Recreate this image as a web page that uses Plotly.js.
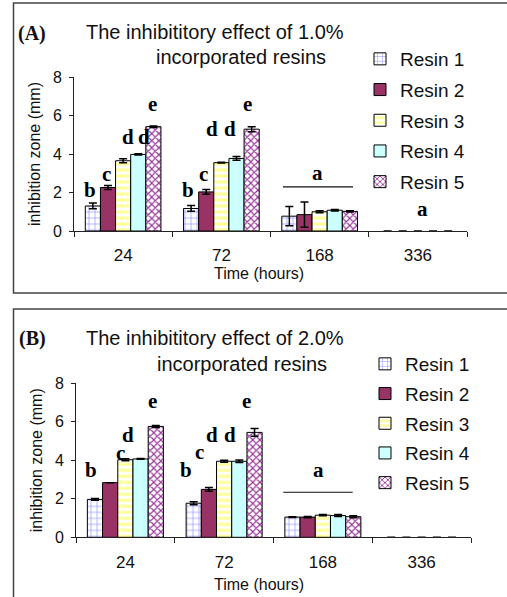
<!DOCTYPE html>
<html>
<head>
<meta charset="utf-8">
<script src="https://cdn.plot.ly/plotly-3.0.1.min.js"></script>
<style>html,body{margin:0;padding:0;background:#fff;}#chart{width:507px;height:597px;}</style>
</head>
<body>
<div id="chart"></div>
<script>
// ---------- DATA ----------
const categories = ['24', '72', '168', '336'];
const resinNames = ['Resin 1', 'Resin 2', 'Resin 3', 'Resin 4', 'Resin 5'];

// Panel A: 1.0% incorporated resins (mm)
const A_resin1 = [1.30, 1.17, 0.77, 0];
const A_resin2 = [2.26, 2.03, 0.85, 0];
const A_resin3 = [3.65, 3.55, 1.00, 0];
const A_resin4 = [3.98, 3.77, 1.08, 0];
const A_resin5 = [5.42, 5.29, 1.02, 0];
const A_err1 = [0.15, 0.15, 0.50, 0];
const A_err2 = [0.10, 0.12, 0.66, 0];
const A_err3 = [0.10, 0.02, 0.05, 0];
const A_err4 = [0.03, 0.10, 0.04, 0];
const A_err5 = [0.04, 0.13, 0.03, 0];

// Panel B: 2.0% incorporated resins (mm)
const B_resin1 = [1.97, 1.77, 1.05, 0];
const B_resin2 = [2.84, 2.49, 1.05, 0];
const B_resin3 = [4.03, 3.95, 1.15, 0];
const B_resin4 = [4.07, 3.95, 1.13, 0];
const B_resin5 = [5.76, 5.45, 1.07, 0];
const B_err1 = [0.05, 0.08, 0.02, 0];
const B_err2 = [0.00, 0.10, 0.03, 0];
const B_err3 = [0.05, 0.05, 0.03, 0];
const B_err4 = [0.02, 0.07, 0.05, 0];
const B_err5 = [0.05, 0.20, 0.05, 0];

// significance letters: text, x (category index units), y (mm)
const A_letters = ['b', 'c', 'd', 'd', 'e', 'b', 'c', 'd', 'd', 'e', 'a', 'a'];
const A_letterX = [-0.337, -0.167, 0.045, 0.212, 0.299, 0.660, 0.823, 0.905, 1.088, 1.261, 1.983, 3.049];
const A_letterY = [2.11, 2.98, 4.86, 4.86, 6.62, 2.11, 2.98, 5.32, 5.32, 6.62, 3.02, 1.16];
const B_letters = ['b', 'c', 'd', 'e', 'b', 'c', 'd', 'd', 'e', 'a'];
const B_letterX = [-0.351, -0.054, 0.030, 0.273, 0.609, 0.746, 0.880, 1.059, 1.229, 1.954];
const B_letterY = [3.48, 4.38, 5.30, 7.09, 3.48, 4.45, 5.30, 5.30, 7.09, 3.48];
// group line over 168 h
const A_lineX = [1.627, 2.34], A_lineY = 2.29;
const B_lineX = [1.599, 2.302], B_lineY = 2.34;

// ---------- STYLE ----------
const W = 507, H = 597;
const px = v => v / W;
const py = v => 1 - v / H;

const styles = [
  {color: '#ffffff', pattern: {shape: '+', fgcolor: '#8f8fff', bgcolor: '#ffffff', size: 6, solidity: 0.2}},
  {color: '#993366'},
  {color: '#ffffff', pattern: {shape: '-', fgcolor: '#ffff99', bgcolor: '#ffffff', size: 6, solidity: 0.5}},
  {color: '#ccffff'},
  {color: '#ffffff', pattern: {shape: 'x', fgcolor: '#993399', bgcolor: '#ffffff', size: 5, solidity: 0.4}}
];

const A_vals = [A_resin1, A_resin2, A_resin3, A_resin4, A_resin5];
const A_errs = [A_err1, A_err2, A_err3, A_err4, A_err5];
const B_vals = [B_resin1, B_resin2, B_resin3, B_resin4, B_resin5];
const B_errs = [B_err1, B_err2, B_err3, B_err4, B_err5];

const traces = [];
function addTraces(vals, errs, xa, ya, leg, tag) {
  vals.forEach((v, i) => {
    const m = {color: styles[i].color, line: {color: '#000', width: v.map(d => d > 0 ? 1 : 0)}};
    if (styles[i].pattern) m.pattern = styles[i].pattern;
    traces.push({
      type: 'bar', x: categories, y: v, name: resinNames[i],
      xaxis: xa, yaxis: ya, legend: leg, legendgroup: tag + i,
      marker: m,
      error_y: {type: 'data', array: errs[i], visible: true, color: '#000', thickness: 1.5, width: 4}
    });
  });
}
addTraces(A_vals, A_errs, 'x', 'y', 'legend', 'A');
addTraces(B_vals, B_errs, 'x2', 'y2', 'legend2', 'B');

const sans = 'Liberation Sans, Arial, sans-serif';
const serif = 'Liberation Serif, Times New Roman, serif';

function xax(domain) {
  return {
    domain: domain, type: 'category', showline: true, linecolor: '#222', linewidth: 1,
    ticks: 'outside', tickson: 'boundaries', ticklen: 5, tickcolor: '#222',
    tickfont: {family: sans, size: 17, color: '#111'}, ticklabelstandoff: 9,
    showgrid: false, zeroline: false, fixedrange: true
  };
}
function yax(domain, anchor) {
  return {
    domain: domain, anchor: anchor, range: [0, 8], dtick: 2, showline: true, linecolor: '#222', linewidth: 1,
    ticks: 'outside', ticklen: 4, tickcolor: '#222',
    tickfont: {family: sans, size: 16, color: '#111'}, ticklabelstandoff: 4,
    showgrid: false, zeroline: false, fixedrange: true,
    title: {text: 'inhibition zone (mm)', font: {family: sans, size: 16, color: '#111'}, standoff: 8}
  };
}

const annotations = [];
function addLetters(letters, lx, ly, xr, yr) {
  letters.forEach((t, i) => annotations.push({
    text: t, x: lx[i], y: ly[i], xref: xr, yref: yr, showarrow: false,
    xanchor: 'center', yanchor: 'middle', borderpad: 0,
    font: {family: serif, size: 21, color: '#000', weight: 'bold'}
  }));
}
addLetters(A_letters, A_letterX, A_letterY, 'x', 'y');
addLetters(B_letters, B_letterX, B_letterY, 'x2', 'y2');

function txt(text, x, y, size, fam, bold) {
  annotations.push({text: text, x: px(x), y: py(y), xref: 'paper', yref: 'paper', showarrow: false,
    xanchor: 'center', yanchor: 'middle',
    font: {family: fam, size: size, color: '#111', weight: bold ? 'bold' : 'normal'}});
}
txt('(A)', 32, 33, 20, serif, true);
txt('The inhibititory effect of 1.0%', 214.5, 32, 20, sans, false);
txt('incorporated resins', 241, 57, 20, sans, false);
txt('Time (hours)', 258.5, 273, 16, sans, false);
txt('(B)', 32, 338, 20, serif, true);
txt('The inhibititory effect of 2.0%', 215, 338, 20, sans, false);
txt('incorporated resins', 242, 364, 20, sans, false);
txt('Time (hours)', 259, 584, 16, sans, false);

const shapes = [
  {type: 'line', xref: 'x', yref: 'y', x0: A_lineX[0], x1: A_lineX[1], y0: A_lineY, y1: A_lineY, line: {color: '#111', width: 1.2}},
  {type: 'line', xref: 'x2', yref: 'y2', x0: B_lineX[0], x1: B_lineX[1], y0: B_lineY, y1: B_lineY, line: {color: '#111', width: 1.2}},
  // panel frames
  {type: 'path', xref: 'paper', yref: 'paper', path: `M ${px(520)} ${py(3)} L ${px(13.5)} ${py(3)} L ${px(13.5)} ${py(293)} L ${px(520)} ${py(293)}`, line: {color: '#444', width: 1.5}},
  {type: 'path', xref: 'paper', yref: 'paper', path: `M ${px(520)} ${py(309)} L ${px(13.5)} ${py(309)} L ${px(13.5)} ${py(610)}`, line: {color: '#444', width: 1.5}}
];

const legendBase = {
  xanchor: 'left', yanchor: 'top', bgcolor: 'rgba(0,0,0,0)', borderwidth: 0,
  font: {family: sans, size: 19, color: '#111'}, itemclick: false, itemdoubleclick: false
};

const layout = {
  width: W, height: H, margin: {l: 0, r: 0, t: 0, b: 0},
  paper_bgcolor: '#fff', plot_bgcolor: 'rgba(0,0,0,0)',
  barmode: 'group', bargap: 0.23, bargroupgap: 0,
  showlegend: true,
  xaxis: xax([px(74), px(467)]),
  yaxis: yax([py(231), py(77)], 'x'),
  xaxis2: Object.assign(xax([px(76), px(471)]), {anchor: 'y2'}),
  yaxis2: yax([py(537.3), py(383.3)], 'x2'),
  legend: Object.assign({x: px(360), y: py(40), tracegroupgap: 3}, legendBase),
  legend2: Object.assign({x: px(365), y: py(345), tracegroupgap: 2}, legendBase),
  annotations: annotations,
  shapes: shapes
};

Plotly.newPlot('chart', traces, layout, {displayModeBar: false, staticPlot: true});
</script>
</body>
</html>
